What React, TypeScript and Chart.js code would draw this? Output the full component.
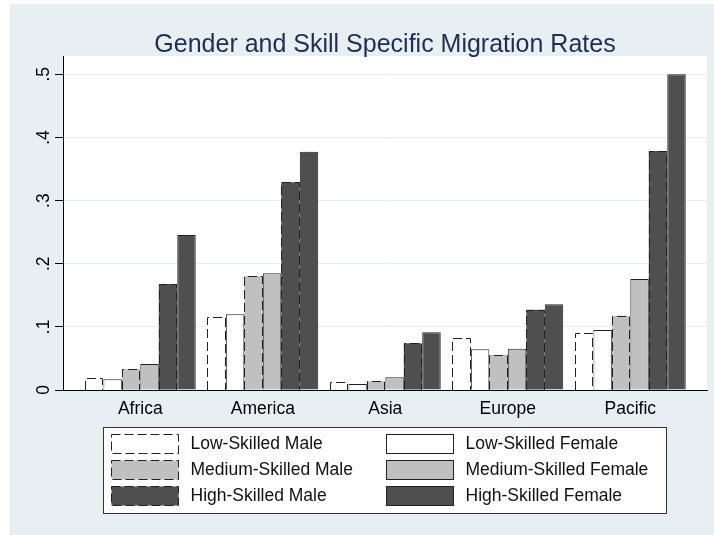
import React, { useEffect, useRef } from 'react';
import { Chart, registerables } from 'chart.js';

Chart.register(...registerables);

const TITLE = 'Gender and Skill Specific Migration Rates';
const categories = ['Africa', 'America', 'Asia', 'Europe', 'Pacific'];

const lowMale = [0.019, 0.116, 0.012, 0.082, 0.09];
const lowFemale = [0.017, 0.12, 0.0095, 0.0645, 0.095];
const medMale = [0.033, 0.1805, 0.014, 0.0555, 0.1177];
const medFemale = [0.041, 0.185, 0.02, 0.0655, 0.1758];
const highMale = [0.168, 0.329, 0.074, 0.127, 0.3785];
const highFemale = [0.2455, 0.3775, 0.0914, 0.1357, 0.5];

const seriesLabels = [
  'Low-Skilled Male',
  'Low-Skilled Female',
  'Medium-Skilled Male',
  'Medium-Skilled Female',
  'High-Skilled Male',
  'High-Skilled Female',
];

const yTickValues = [0, 0.1, 0.2, 0.3, 0.4, 0.5];
const yTickLabels = ['0', '.1', '.2', '.3', '.4', '.5'];

const FONT = '"Liberation Sans", Arial, sans-serif';
const BG = '#e8eff2';
const GRID = '#e6eef1';
const LOW = '#ffffff';
const MED = '#c0c0c0';
const HIGH = '#4f4f4f';
const EDGE = '#222222';
const DASH = [9, 4];

const backgroundPlugin = {
  id: 'bgPlugin',
  beforeDraw(chart: any) {
    const { ctx, width, height, chartArea } = chart;
    ctx.save();
    ctx.fillStyle = '#ffffff';
    ctx.fillRect(0, 0, width, height);
    ctx.fillStyle = BG;
    ctx.fillRect(10, 4, width - 10, height - 4);
    ctx.fillStyle = '#ffffff';
    ctx.fillRect(chartArea.left, chartArea.top, chartArea.right - chartArea.left, chartArea.bottom - chartArea.top);
    ctx.fillStyle = '#1f2d52';
    ctx.font = '25px ' + FONT;
    ctx.textAlign = 'center';
    ctx.textBaseline = 'alphabetic';
    ctx.fillText(TITLE, (chartArea.left + chartArea.right) / 2, 51.5);
    ctx.restore();
  },
};

const maleOutlinePlugin = {
  id: 'maleOutline',
  afterDatasetsDraw(chart: any) {
    const ctx = chart.ctx;
    ctx.save();
    ctx.strokeStyle = EDGE;
    ctx.lineWidth = 1;
    ctx.setLineDash(DASH);
    chart.data.datasets.forEach((ds: any, di: number) => {
      if (!ds.male) return;
      const meta = chart.getDatasetMeta(di);
      meta.data.forEach((el: any) => {
        const { x, y, base, width } = el.getProps(['x', 'y', 'base', 'width'], true);
        const l = Math.round(x - width / 2) + 0.5;
        const r = Math.round(x + width / 2) - 0.5;
        const t = Math.round(y) + 0.5;
        const b = Math.round(base);
        ctx.beginPath();
        ctx.moveTo(l, b);
        ctx.lineTo(l, t);
        ctx.lineTo(r, t);
        ctx.lineTo(r, b);
        ctx.stroke();
      });
    });
    ctx.restore();
  },
};

const legendPlugin = {
  id: 'customLegend',
  afterDraw(chart: any) {
    const ctx = chart.ctx;
    ctx.save();
    const bx = 103.5, by = 427.5, bw = 563, bh = 86;
    ctx.fillStyle = '#ffffff';
    ctx.fillRect(bx, by, bw, bh);
    ctx.strokeStyle = '#333333';
    ctx.lineWidth = 1;
    ctx.strokeRect(bx, by, bw, bh);
    const symX = [111.5, 386.5];
    const txtX = [190.5, 465.5];
    chart.data.datasets.forEach((ds: any, i: number) => {
      const col = i % 2;
      const row = Math.floor(i / 2);
      const y = 434.5 + row * 26;
      ctx.fillStyle = ds.backgroundColor;
      ctx.fillRect(symX[col], y, 67, 19);
      ctx.setLineDash(ds.male ? DASH : []);
      ctx.strokeStyle = EDGE;
      ctx.strokeRect(symX[col], y, 67, 19);
      ctx.setLineDash([]);
      ctx.fillStyle = '#111111';
      ctx.font = '17.5px ' + FONT;
      ctx.textAlign = 'left';
      ctx.textBaseline = 'middle';
      ctx.fillText(ds.label, txtX[col], y + 10);
    });
    ctx.restore();
  },
};

function toPoints(values: number[]) {
  return values.map((v, i) => ({ x: i, y: v }));
}

export default function App() {
  const ref = useRef<HTMLCanvasElement | null>(null);

  useEffect(() => {
    if (!ref.current) return;
    Chart.defaults.font.family = FONT;
    const series = [lowMale, lowFemale, medMale, medFemale, highMale, highFemale];
    const fills = [LOW, LOW, MED, MED, HIGH, HIGH];
    const datasets = series.map((vals, i) => {
      const male = i % 2 === 0;
      return {
        label: seriesLabels[i],
        data: toPoints(vals),
        backgroundColor: fills[i],
        borderColor: EDGE,
        borderWidth: male ? 0 : 1,
        borderSkipped: 'start',
        male,
      } as any;
    });

    const chart = new Chart(ref.current, {
      type: 'bar',
      data: { datasets },
      options: {
        responsive: false,
        animation: false,
        devicePixelRatio: 1,
        layout: { padding: { top: 56, right: 7, left: 0, bottom: 0 } },
        datasets: { bar: { categoryPercentage: 0.905, barPercentage: 1 } },
        plugins: {
          legend: { display: false },
          title: { display: false },
          tooltip: { enabled: false },
        },
        scales: {
          x: {
            type: 'linear',
            offset: false,
            min: -0.631,
            max: 4.626,
            position: 'bottom',
            grid: { display: false, drawTicks: false, tickLength: 0, offset: false },
            border: { display: true, color: '#000000', width: 1 },
            afterBuildTicks: (scale: any) => {
              scale.ticks = categories.map((_, i) => ({ value: i }));
            },
            afterFit: (scale: any) => {
              scale.height = 145;
            },
            ticks: {
              autoSkip: false,
              maxRotation: 0,
              minRotation: 0,
              padding: 8.4,
              color: '#000000',
              font: { size: 17.5, family: FONT },
              callback: (_v: any, i: number) => categories[i],
            },
          },
          y: {
            type: 'linear',
            min: 0,
            max: 0.529,
            grid: {
              display: true,
              color: GRID,
              lineWidth: 1,
              drawTicks: true,
              tickLength: 8,
              tickColor: '#000000',
              tickWidth: 1,
            },
            border: { display: true, color: '#000000', width: 1 },
            afterBuildTicks: (scale: any) => {
              scale.ticks = yTickValues.map((v) => ({ value: v }));
            },
            afterFit: (scale: any) => {
              scale.width = 63;
            },
            ticks: {
              minRotation: 90,
              maxRotation: 90,
              crossAlign: 'center',
              padding: 4,
              color: '#000000',
              font: { size: 17.5, family: FONT },
              callback: (_v: any, i: number) => yTickLabels[i],
            },
          },
        },
      } as any,
      plugins: [backgroundPlugin, maleOutlinePlugin, legendPlugin],
    });
    return () => chart.destroy();
  }, []);

  return (
    <div style={{ position: 'absolute', left: 0, top: 0, width: 714, height: 535 }}>
      <canvas ref={ref} width={714} height={535} style={{ display: 'block', width: 714, height: 535 }} />
    </div>
  );
}
